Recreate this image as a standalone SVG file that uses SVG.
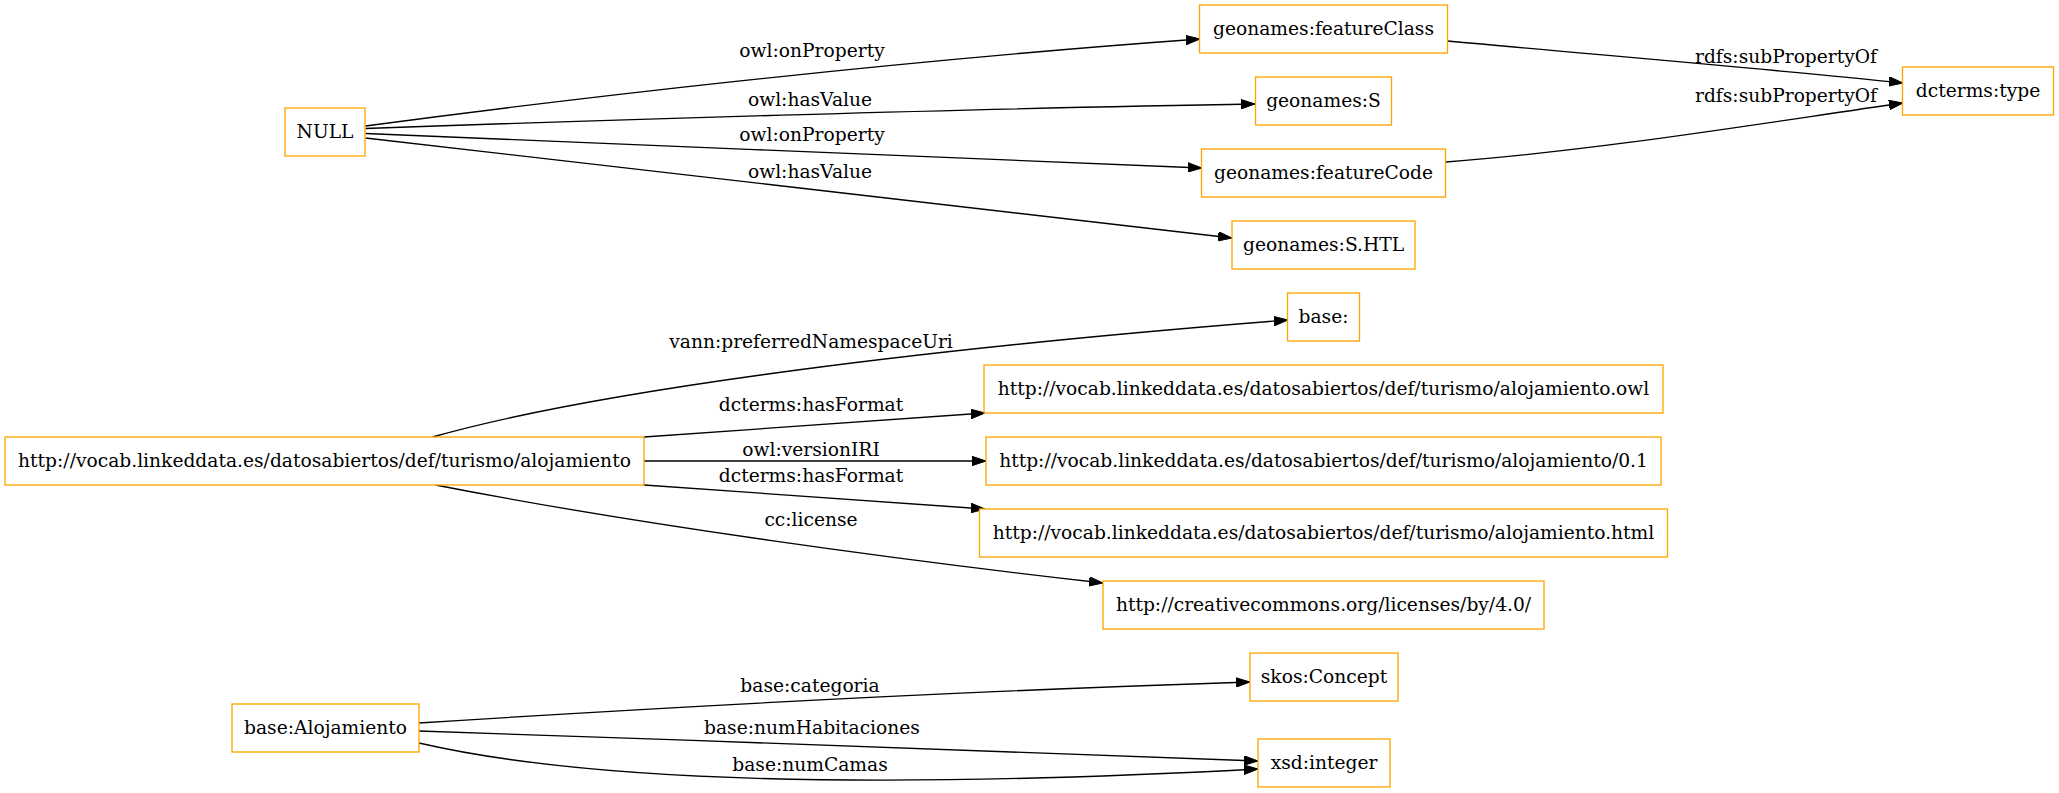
<svg xmlns="http://www.w3.org/2000/svg" width="2059" height="793" viewBox="0 0 2059 793">
<defs>
<style>
.n rect{fill:#fff;stroke:#ffa500;stroke-width:1.33}
text{font-family:"DejaVu Serif","Liberation Serif",serif;font-size:18.67px;fill:#000;text-anchor:middle}
.e path{fill:none;stroke:#000;stroke-width:1.33}
</style>
<marker id="ar" markerUnits="userSpaceOnUse" markerWidth="14" markerHeight="10" viewBox="0 0 14 10" refX="14" refY="5" orient="auto">
<path d="M0,0.3 L14,5 L0,9.7 z" fill="#000" stroke="#000" stroke-width="1"/>
</marker>
</defs>
<rect width="2059" height="793" fill="#fff"/>
<g class="e" id="edges">
<path marker-end="url(#ar)" d="M365.5,126 C560,100 880,62 1200,39"/>
<path marker-end="url(#ar)" d="M365.5,128.5 C600,120 1000,108 1255,104"/>
<path marker-end="url(#ar)" d="M365.5,133.5 C600,143 1000,160 1202,168"/>
<path marker-end="url(#ar)" d="M365.5,138 C650,171 950,205 1232,238"/>
<path marker-end="url(#ar)" d="M1447.5,41 C1600,55 1780,70 1903,83"/>
<path marker-end="url(#ar)" d="M1446,162 C1600,150 1750,125 1903,103"/>
<path marker-end="url(#ar)" d="M432.5,437 C580,395 880,352 1288,320"/>
<path marker-end="url(#ar)" d="M644,437 L985,413"/>
<path marker-end="url(#ar)" d="M644,461 L986,461"/>
<path marker-end="url(#ar)" d="M644,485 L985,509"/>
<path marker-end="url(#ar)" d="M435.5,485 C640,525 900,560 1103,583"/>
<path marker-end="url(#ar)" d="M419,723 C700,705 1000,690 1250,682"/>
<path marker-end="url(#ar)" d="M419,731 C700,740 1000,752 1258,761"/>
<path marker-end="url(#ar)" d="M419,743 C600,785 900,788 1258,769"/>
<text x="812" y="57">owl:onProperty</text>
<text x="810" y="106">owl:hasValue</text>
<text x="812" y="141">owl:onProperty</text>
<text x="810" y="178">owl:hasValue</text>
<text x="1786" y="63">rdfs:subPropertyOf</text>
<text x="1786" y="102">rdfs:subPropertyOf</text>
<text x="811" y="348">vann:preferredNamespaceUri</text>
<text x="811" y="411">dcterms:hasFormat</text>
<text x="811" y="456">owl:versionIRI</text>
<text x="811" y="482">dcterms:hasFormat</text>
<text x="811" y="526">cc:license</text>
<text x="810" y="692">base:categoria</text>
<text x="812" y="734">base:numHabitaciones</text>
<text x="810" y="771">base:numCamas</text>
</g>
<g class="n" id="n_null"><rect x="285" y="108" width="80" height="48"/><text x="325" y="138">NULL</text></g>
<g class="n" id="n_featureClass"><rect x="1199.5" y="5" width="248" height="48"/><text x="1323.5" y="35">geonames:featureClass</text></g>
<g class="n" id="n_S"><rect x="1255.5" y="77" width="136" height="48"/><text x="1323.5" y="107">geonames:S</text></g>
<g class="n" id="n_featureCode"><rect x="1201.5" y="149" width="244" height="48"/><text x="1323.5" y="179">geonames:featureCode</text></g>
<g class="n" id="n_SHTL"><rect x="1232" y="221" width="183" height="48"/><text x="1323.5" y="251">geonames:S.HTL</text></g>
<g class="n" id="n_dctype"><rect x="1902.5" y="67" width="151" height="48"/><text x="1978" y="97">dcterms:type</text></g>
<g class="n" id="n_main"><rect x="5" y="437" width="639" height="48"/><text x="324.5" y="467">http://vocab.linkeddata.es/datosabiertos/def/turismo/alojamiento</text></g>
<g class="n" id="n_base"><rect x="1287.5" y="293" width="72" height="48"/><text x="1323.5" y="323">base:</text></g>
<g class="n" id="n_owl"><rect x="984" y="365" width="679" height="48"/><text x="1323.5" y="395">http://vocab.linkeddata.es/datosabiertos/def/turismo/alojamiento.owl</text></g>
<g class="n" id="n_v01"><rect x="986" y="437" width="675" height="48"/><text x="1323.5" y="467">http://vocab.linkeddata.es/datosabiertos/def/turismo/alojamiento/0.1</text></g>
<g class="n" id="n_html"><rect x="979.5" y="509" width="688" height="48"/><text x="1323.5" y="539">http://vocab.linkeddata.es/datosabiertos/def/turismo/alojamiento.html</text></g>
<g class="n" id="n_cc"><rect x="1103" y="581" width="441" height="48"/><text x="1323.5" y="611">http://creativecommons.org/licenses/by/4.0/</text></g>
<g class="n" id="n_aloj"><rect x="232" y="704" width="187" height="48"/><text x="325.5" y="734">base:Alojamiento</text></g>
<g class="n" id="n_skos"><rect x="1250" y="653" width="148" height="48"/><text x="1324" y="683">skos:Concept</text></g>
<g class="n" id="n_xsd"><rect x="1258" y="739" width="132" height="48"/><text x="1324" y="769">xsd:integer</text></g>
</svg>
